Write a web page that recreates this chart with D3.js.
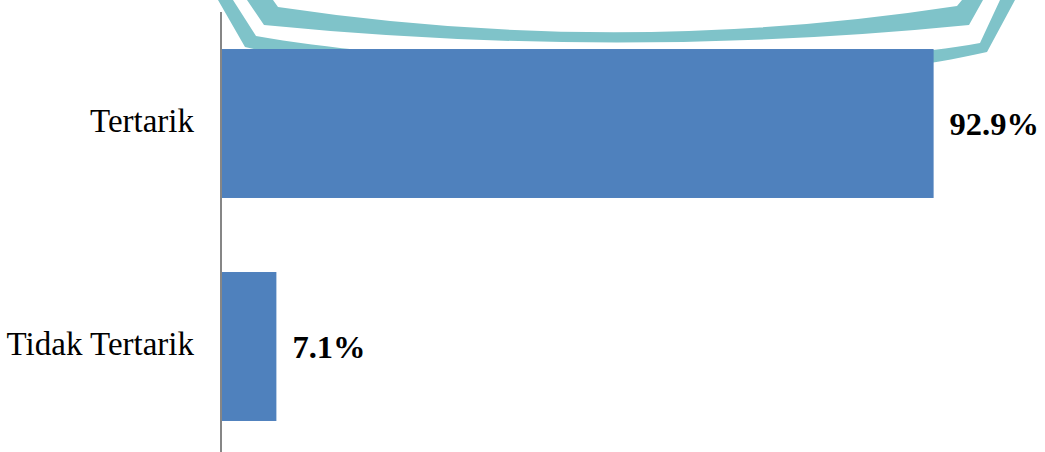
<!DOCTYPE html>
<html>
<head>
<meta charset="utf-8">
<script src="https://cdn.jsdelivr.net/npm/d3@7"></script>
<style>
  html, body { margin: 0; padding: 0; background: #ffffff; }
  svg { display: block; }
</style>
</head>
<body>
<svg id="chart" width="1045" height="452"></svg>
<script>
// ---- data ----
const categories = ["Tertarik", "Tidak Tertarik"];
const values = [92.9, 7.1];
const valueLabels = ["92.9%", "7.1%"];

// ---- layout ----
const W = 1045, H = 452;
const svg = d3.select("#chart");

// decorative watermark (background logo fragment)
const wm = svg.append("g").attr("class", "watermark").attr("fill", "#7fc3c9");
wm.append("path").attr("d",
  "M247,0 L264,25 Q617,60 969,25 L983,0 L962,0 L957,6 Q617,58 278,7 L273,0 Z");
wm.append("path").attr("d",
  "M218,0 L245,47 C450,95 800,95 987,52 L1015,0 L1000,0 L980,43 C800,75 450,70 256,36 L233,0 Z");

const x = d3.scaleLinear().domain([0, 100]).range([222, 988]);
const y = d3.scaleBand().domain(categories).range([12, 458])
  .paddingInner(0.332).paddingOuter(0.166);

// bars
svg.append("g").selectAll("rect")
  .data(categories)
  .join("rect")
  .attr("x", x(0))
  .attr("y", d => y(d))
  .attr("width", (d, i) => x(values[i]) - x(0))
  .attr("height", y.bandwidth())
  .attr("fill", "#4f81bd");

// value labels
svg.append("g").selectAll("text")
  .data(categories)
  .join("text")
  .attr("x", (d, i) => x(values[i]) + 16)
  .attr("y", d => y(d) + y.bandwidth() / 2)
  .attr("dy", "0.35em")
  .attr("font-family", "'Liberation Serif', 'Times New Roman', serif")
  .attr("font-weight", "bold")
  .attr("font-size", "32.5px")
  .attr("fill", "#000")
  .text((d, i) => valueLabels[i]);

// axis
const axis = svg.append("g")
  .attr("transform", "translate(221,0)")
  .call(d3.axisLeft(y).tickSize(0).tickPadding(27));
axis.select(".domain").attr("stroke", "#868686").attr("stroke-width", 2)
  .attr("d", "M0,12V452");
axis.selectAll("text")
  .attr("font-family", "'Liberation Serif', 'Times New Roman', serif")
  .attr("font-size", "33px")
  .attr("dy", "0.27em")
  .attr("fill", "#000");
</script>
</body>
</html>
